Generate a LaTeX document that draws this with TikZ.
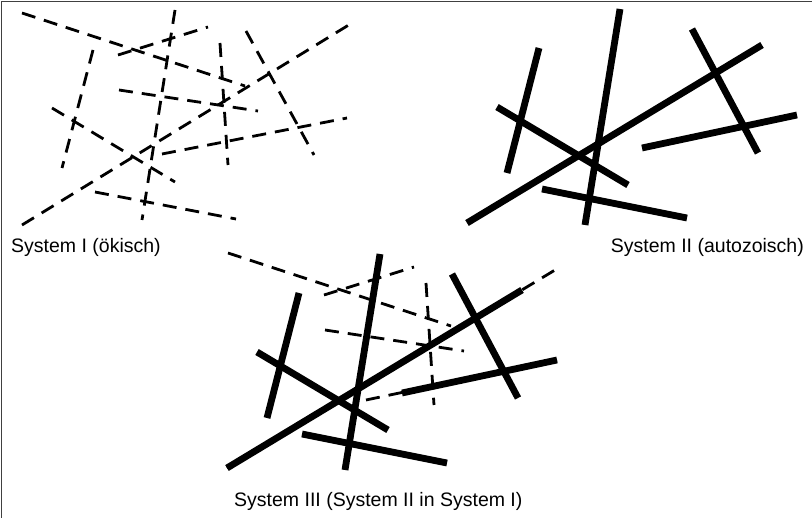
\documentclass[tikz,border=0pt]{standalone}
\usepackage{fontspec}
\setmainfont{Liberation Sans}

\begin{document}
\begin{tikzpicture}[x=1pt, y=-1pt,
    oekline/.style={line width=2.8pt, dash pattern=on 14pt off 9pt},
    autoline/.style={line width=6.8pt},
    caption/.style={font=\fontsize{19.5}{24}\selectfont, inner sep=0pt}]
    % параметры
    \def\W{812}    % ширина рисунка
    \def\H{518}    % высота рисунка

    % штриховые линии (система I)
    \def\oekA{(22,13) -- (245,86)}
    \def\oekB{(175,10) -- (142,220)}
    \def\oekC{(118,55) -- (208,27)}
    \def\oekD{(93,50) -- (62,168)}
    \def\oekE{(52,108) -- (175,182)}
    \def\oekF{(22,225) -- (352,23)}
    \def\oekG{(119,90) -- (258,111)}
    \def\oekH{(220,43) -- (228,165)}
    \def\oekI{(246,31) -- (314,155)}
    \def\oekJ{(162,154) -- (347,118)}
    \def\oekK{(95,192) -- (236,219)}

    % сплошные линии (система II)
    \def\autA{(620,9) -- (585,225)}
    \def\autB{(539,48) -- (507,173)}
    \def\autC{(497,107) -- (628,185)}
    \def\autD{(467,223) -- (762,45)}
    \def\autE{(692,29) -- (758,153)}
    \def\autF{(642,148) -- (797,115)}
    \def\autG{(542,189) -- (687,218)}

    \useasboundingbox (0,0) rectangle (\W,\H);

    % рамка: видны только верх и левый край
    \draw[line width=0.9pt, black!75] (\W,1) -- (1.5,1) -- (1.5,\H);

    % система I
    \draw[oekline] \oekA;
    \draw[oekline] \oekB;
    \draw[oekline] \oekC;
    \draw[oekline] \oekD;
    \draw[oekline] \oekE;
    \draw[oekline] \oekF;
    \draw[oekline] \oekG;
    \draw[oekline] \oekH;
    \draw[oekline] \oekI;
    \draw[oekline] \oekJ;
    \draw[oekline] \oekK;

    % система II
    \draw[autoline] \autA;
    \draw[autoline] \autB;
    \draw[autoline] \autC;
    \draw[autoline] \autD;
    \draw[autoline] \autE;
    \draw[autoline] \autF;
    \draw[autoline] \autG;

    % система III: часть системы I под системой II
    \begin{scope}[shift={(206,240)}]
        \draw[oekline] \oekA;
        \draw[oekline] \oekC;
        \draw[oekline] \oekG;
        \draw[oekline] \oekH;
    \end{scope}
    % эти две идут вдоль сплошных
    \draw[oekline] (227,468) -- (560,267);
    \draw[oekline] (366,400) -- (557,360);
    \begin{scope}[shift={(-240,245)}]
        \draw[autoline] \autA;
        \draw[autoline] \autB;
        \draw[autoline] \autC;
        \draw[autoline] \autD;
        \draw[autoline] \autE;
        \draw[autoline] \autF;
        \draw[autoline] \autG;
    \end{scope}

    % подписи
    \node[caption, anchor=base west] (capI) at (11,253) {System I (ökisch)};
    \node[caption, anchor=base east] (capII) at (804,253) {System II (autozoisch)};
    \node[caption, anchor=base west] (capIII) at (234,507) {System III (System II in System I)};
\end{tikzpicture}
\end{document}
